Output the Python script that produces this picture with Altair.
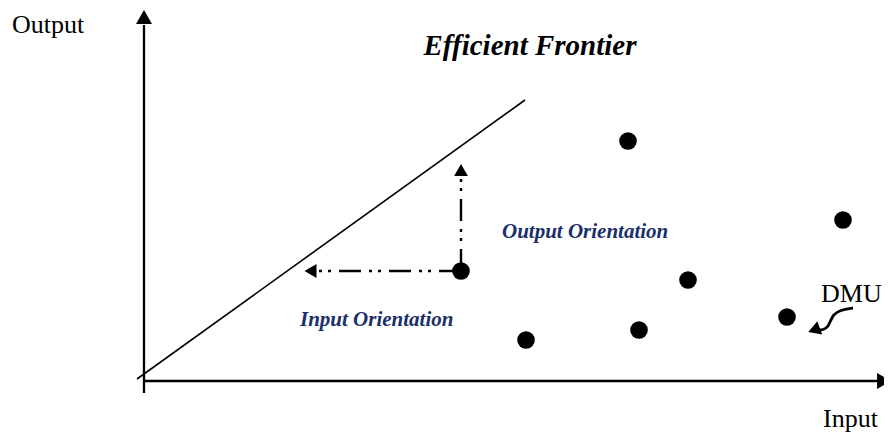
import altair as alt
import pandas as pd

# ---- data (units: input on x, output on y) ----
dmu_input = [3.17, 4.84, 6.99, 5.44, 4.95, 3.82, 6.43]
dmu_output = [1.10, 2.40, 1.61, 1.01, 0.51, 0.41, 0.64]

frontier_input = [-0.07, 3.81]
frontier_output = [0.02, 2.81]

# projection of the inefficient DMU (first DMU)
proj_start = (3.17, 1.10)
input_proj_end = 1.74   # input-oriented target (x)
output_proj_end = 2.04  # output-oriented target (y)

# curved pointer to a DMU
pointer_x = [7.09, 6.96, 6.89, 6.87, 6.84, 6.79, 6.74]
pointer_y = [0.73, 0.71, 0.66, 0.61, 0.54, 0.51, 0.51]

X_DOMAIN = [-1.36, 7.40]
Y_DOMAIN = [-0.52, 3.73]

xs = alt.Scale(domain=X_DOMAIN, nice=False, zero=False)
ys = alt.Scale(domain=Y_DOMAIN, nice=False, zero=False)

def X(f="x"):
    return alt.X(f"{f}:Q", scale=xs, axis=None)

def Y(f="y"):
    return alt.Y(f"{f}:Q", scale=ys, axis=None)

# axes
axes_df = pd.DataFrame({
    "x": [0.0, 0.0], "y": [-0.12, 0.0],
    "x2": [0.0, 7.36], "y2": [3.56, 0.0],
})
axes = alt.Chart(axes_df).mark_rule(color="black", strokeWidth=2.3).encode(
    x=X(), y=Y(), x2="x2:Q", y2="y2:Q"
)
arrow_heads_df = pd.DataFrame({
    "x": [0.0, 7.40], "y": [3.64, 0.0],
    "shape": ["triangle-up", "triangle-right"],
})
arrow_heads = alt.Chart(arrow_heads_df).mark_point(
    filled=True, color="black", opacity=1, size=256
).encode(x=X(), y=Y(), shape=alt.Shape("shape:N", scale=None))

# frontier
front_df = pd.DataFrame({"x": frontier_input, "y": frontier_output})
frontier = alt.Chart(front_df).mark_line(color="black", strokeWidth=1.6).encode(
    x=X(), y=Y()
)

# orientation projections (dash-dot-dot)
proj_df = pd.DataFrame({
    "x": [proj_start[0], proj_start[0]],
    "y": [proj_start[1], proj_start[1]],
    "x2": [input_proj_end, proj_start[0]],
    "y2": [proj_start[1], output_proj_end],
})
proj = alt.Chart(proj_df).mark_rule(
    color="black", strokeWidth=2.4, strokeDash=[22, 8, 3, 6, 3, 8], strokeCap="butt"
).encode(x=X(), y=Y(), x2="x2:Q", y2="y2:Q")
proj_heads_df = pd.DataFrame({
    "x": [input_proj_end - 0.075, proj_start[0]],
    "y": [proj_start[1], output_proj_end + 0.07],
    "shape": ["triangle-left", "triangle-up"],
})
proj_heads = alt.Chart(proj_heads_df).mark_point(
    filled=True, color="black", opacity=1, size=190
).encode(x=X(), y=Y(), shape=alt.Shape("shape:N", scale=None))

# DMUs
dmu_df = pd.DataFrame({"x": dmu_input, "y": dmu_output})
dmus = alt.Chart(dmu_df).mark_circle(color="black", opacity=1, size=310).encode(
    x=X(), y=Y()
)

# curved pointer
ptr_df = pd.DataFrame({"x": pointer_x, "y": pointer_y, "o": list(range(len(pointer_x)))})
pointer = alt.Chart(ptr_df).mark_line(
    color="black", strokeWidth=2.8, interpolate="basis"
).encode(x=X(), y=Y(), order="o:Q")
ptr_head = alt.Chart(pd.DataFrame({"x": [6.70], "y": [0.51]})).mark_point(
    shape="triangle-left", filled=True, color="black", opacity=1, size=200, angle=340
).encode(x=X(), y=Y())

# text
plain_df = pd.DataFrame({
    "x": [-1.32, 6.79, 6.77], "y": [3.48, -0.46, 0.79],
    "label": ["Output", "Input", "DMU"],
})
plain = alt.Chart(plain_df).mark_text(
    font="Liberation Serif", fontSize=26, align="left", baseline="alphabetic", color="black"
).encode(x=X(), y=Y(), text="label:N")

title_df = pd.DataFrame({"x": [3.86], "y": [3.26], "label": ["Efficient Frontier"]})
title = alt.Chart(title_df).mark_text(
    font="Liberation Serif", fontSize=29, fontStyle="italic", fontWeight="bold",
    align="center", baseline="alphabetic", color="black"
).encode(x=X(), y=Y(), text="label:N")

orient_df = pd.DataFrame({
    "x": [3.58, 1.56], "y": [1.43, 0.55],
    "label": ["Output Orientation", "Input Orientation"],
})
orient = alt.Chart(orient_df).mark_text(
    font="Liberation Serif", fontSize=21, fontStyle="italic", fontWeight="bold",
    align="left", baseline="alphabetic", color="#1b2f6b"
).encode(x=X(), y=Y(), text="label:N")

chart = alt.layer(
    frontier, axes, arrow_heads, proj, proj_heads, dmus, pointer, ptr_head,
    plain, title, orient
).properties(
    width=876, height=425, padding=0, autosize=alt.AutoSizeParams(type="none")
).configure_view(stroke=None)

chart.save("out.html", embed_options={"renderer": "svg", "actions": False})
